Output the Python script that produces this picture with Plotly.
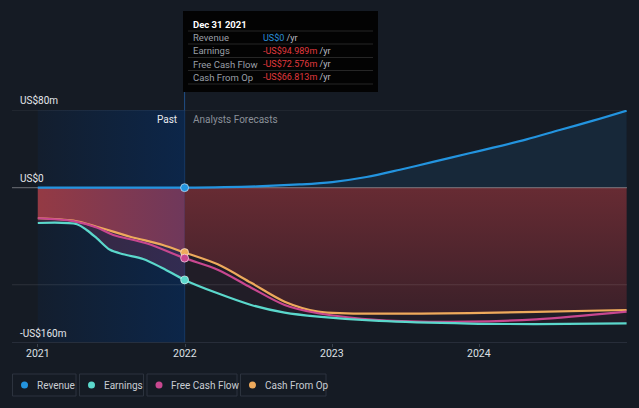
import plotly.graph_objects as go

# ---------------- data (US$ millions) ----------------
rev_dates = ["2021-01-01", "2021-12-31", "2022-06-29", "2022-10-12", "2023-01-01",
             "2023-03-27", "2023-06-18", "2023-09-08", "2023-12-07", "2024-02-04",
             "2024-04-27", "2024-07-18", "2024-10-09", "2024-12-31"]
rev_vals = [0, 0, 1.3, 3.3, 5.8, 11, 18.5, 26.5, 35.4, 41.2, 49.8, 59.4, 69, 79.3]

earn_dates = ["2021-01-01", "2021-04-08", "2021-05-02", "2021-05-27", "2021-06-29",
              "2021-08-01", "2021-09-19", "2021-11-07", "2021-12-31", "2022-03-23",
              "2022-06-14", "2022-09-05", "2022-11-27", "2023-04-27", "2023-12-07",
              "2024-05-21", "2024-12-31"]
earn_vals = [-36.4, -37.7, -43.6, -52, -64, -68.6, -73.4, -83, -94.989, -108.8,
             -120.8, -128.7, -132.8, -137.3, -140, -140.5, -139.7]

fcf_dates = ["2021-01-01", "2021-03-30", "2021-05-27", "2021-07-07", "2021-09-27",
             "2021-12-31", "2022-03-23", "2022-06-14", "2022-09-05", "2022-11-27",
             "2023-04-27", "2023-12-07", "2024-05-21", "2024-12-31"]
fcf_vals = [-31.5, -34.5, -41, -48.7, -57.3, -72.576, -84.5, -103, -120.8, -129.4,
            -136.3, -138, -135.6, -127.7]

cfo_dates = ["2021-01-01", "2021-03-30", "2021-05-27", "2021-08-18", "2021-11-07",
             "2021-12-31", "2022-03-23", "2022-06-14", "2022-09-05", "2022-11-27",
             "2023-02-06", "2023-12-07", "2024-05-21", "2024-12-31"]
cfo_vals = [-31.5, -34, -40.2, -50.5, -59, -66.813, -79, -98, -117.4, -127.7,
            -129.4, -129.2, -128, -126]

last_past = "2021-12-31"
x_range = ["2020-10-29", "2025-01-01"]
y_range = [-160, 80]
year_ticks = ["2021-01-01", "2022-01-01", "2023-01-01", "2024-01-01"]
year_labels = ["2021", "2022", "2023", "2024"]
y_label_vals = [80, 0, -160]
y_label_text = ["US$80m", "US$0", "-US$160m"]
grid_vals = [80, -100]

tooltip_title = "Dec 31 2021"
tooltip_rows = [("Revenue", "US$0", "#2a8fd8"),
                ("Earnings", "-US$94.989m", "#e0393e"),
                ("Free Cash Flow", "-US$72.576m", "#e0393e"),
                ("Cash From Op", "-US$66.813m", "#e0393e")]

legend_names = ["Revenue", "Earnings", "Free Cash Flow", "Cash From Op"]

# ---------------- style ----------------
BG = "#151b24"
C_REV = "#2394df"
C_EARN = "#5bd8cc"
C_FCF = "#c8478f"
C_CFO = "#eeaa5c"
FONT = "Roboto"

# plot-area pixel geometry
L, R, T, B = 12, 627, 110, 343
W, H = 639, 408


def px(xp):
    return (xp - L) / (R - L)


def py(yp):
    return (B - yp) / (B - T)


def split(dates, vals, past=True):
    out_d, out_v = [], []
    for d, v in zip(dates, vals):
        if (d <= last_past) == past or d == last_past:
            out_d.append(d)
            out_v.append(v)
    return out_d, out_v


fig = go.Figure()
NOH = dict(hoverinfo="skip", showlegend=False)
SMOOTH = 0.9

# past background band (horizontal gradient)
fig.add_trace(go.Scatter(
    x=[rev_dates[0], last_past, last_past, rev_dates[0], rev_dates[0]],
    y=[y_range[0], y_range[0], y_range[1], y_range[1], y_range[0]],
    mode="lines", line=dict(width=0), fill="toself",
    fillgradient=dict(type="horizontal", colorscale=[[0, "#131e2e"], [1, "#0c2649"]]),
    **NOH))

# revenue area (forecast)
rd, rv = split(rev_dates, rev_vals, past=False)
fig.add_trace(go.Scatter(x=rd, y=rv, mode="lines",
                         line=dict(width=0, shape="spline", smoothing=SMOOTH),
                         fill="tozeroy", fillcolor="#172839", **NOH))

# earnings faint fill
ed, ev = split(earn_dates, earn_vals, past=True)
fig.add_trace(go.Scatter(x=ed, y=ev, mode="lines",
                         line=dict(width=0, shape="spline", smoothing=SMOOTH),
                         fill="tozeroy", fillcolor="rgba(205,70,120,0.20)", **NOH))
ed, ev = split(earn_dates, earn_vals, past=False)
fig.add_trace(go.Scatter(x=ed, y=ev, mode="lines",
                         line=dict(width=0, shape="spline", smoothing=SMOOTH),
                         fill="tozeroy", fillcolor="rgba(200,60,90,0.07)", **NOH))

# cash from op fill (red)
cd, cv = split(cfo_dates, cfo_vals, past=False)
fig.add_trace(go.Scatter(x=cd, y=cv, mode="lines",
                         line=dict(width=0, shape="spline", smoothing=SMOOTH),
                         fill="tozeroy",
                         fillgradient=dict(type="vertical",
                                           colorscale=[[0, "#3b2029"], [1, "#672b33"]]),
                         **NOH))
cd, cv = split(cfo_dates, cfo_vals, past=True)
fig.add_trace(go.Scatter(x=cd, y=cv, mode="lines",
                         line=dict(width=0, shape="spline", smoothing=SMOOTH),
                         fill="tozeroy",
                         fillgradient=dict(type="horizontal",
                                           colorscale=[[0, "#943a44"], [1, "#6f385b"]]),
                         **NOH))

# gridlines
for gv in grid_vals:
    fig.add_trace(go.Scatter(x=x_range, y=[gv, gv], mode="lines",
                             line=dict(color="rgba(255,255,255,0.10)", width=1), **NOH))
fig.add_trace(go.Scatter(x=x_range, y=[0, 0], mode="lines",
                         line=dict(color="rgba(255,255,255,0.30)", width=1.2), **NOH))
fig.add_trace(go.Scatter(x=x_range, y=[y_range[0], y_range[0]], mode="lines",
                         line=dict(color="#2e3540", width=1.5), **NOH))

# lines
for d, v, c in [(rev_dates, rev_vals, C_REV), (cfo_dates, cfo_vals, C_CFO),
                (fcf_dates, fcf_vals, C_FCF), (earn_dates, earn_vals, C_EARN)]:
    fig.add_trace(go.Scatter(x=d, y=v, mode="lines",
                             line=dict(color=c, width=2.2, shape="spline", smoothing=SMOOTH),
                             **NOH))

# markers at last past point
for d, v, c in [(rev_dates, rev_vals, C_REV), (cfo_dates, cfo_vals, C_CFO),
                (fcf_dates, fcf_vals, C_FCF), (earn_dates, earn_vals, C_EARN)]:
    i = d.index(last_past)
    fig.add_trace(go.Scatter(x=[d[i]], y=[v[i]], mode="markers",
                             marker=dict(color=c, size=8,
                                         line=dict(color="rgba(255,255,255,0.55)", width=1)),
                             **NOH))

shapes = []
annotations = []

# vertical divider line (from tooltip bottom to axis)
shapes.append(dict(type="line", xref="x", yref="paper", x0=last_past, x1=last_past,
                   y0=0, y1=py(92), line=dict(color="#1f4f86", width=1), layer="below"))

# x tick labels
for tv, tl in zip(year_ticks, year_labels):
    annotations.append(dict(xref="x", yref="paper", x=tv, y=py(353), text=tl,
                            xanchor="center", yanchor="middle", showarrow=False,
                            font=dict(family=FONT, size=10.5, color="#dde0e4")))

# y labels
for v, t in zip(y_label_vals, y_label_text):
    annotations.append(dict(xref="paper", yref="y", x=px(18), y=v, text=t,
                            xanchor="left", yanchor="bottom", yshift=2, showarrow=False,
                            font=dict(family=FONT, size=10, color="#e4e7eb")))

# past / forecast labels
annotations.append(dict(xref="x", yref="paper", x=last_past, y=py(119), text="Past",
                        xanchor="right", yanchor="middle", xshift=-6, showarrow=False,
                        font=dict(family=FONT, size=10, color="#e8eaee")))
annotations.append(dict(xref="x", yref="paper", x=last_past, y=py(119),
                        text="Analysts Forecasts", xanchor="left", yanchor="middle",
                        xshift=6, showarrow=False,
                        font=dict(family=FONT, size=10, color="#8a9099")))

# tooltip
shapes.append(dict(type="rect", xref="paper", yref="paper", x0=px(183), x1=px(378),
                   y0=py(92), y1=py(11), fillcolor="#030303", line=dict(width=0),
                   layer="above"))
for sy in [31, 44, 57.5, 70.5, 84]:
    shapes.append(dict(type="line", xref="paper", yref="paper", x0=px(188), x1=px(373),
                       y0=py(sy), y1=py(sy), line=dict(color="#262626", width=1),
                       layer="above"))
annotations.append(dict(xref="paper", yref="paper", x=px(191), y=py(24.3),
                        text="<b>" + tooltip_title + "</b>", xanchor="left",
                        yanchor="middle", showarrow=False,
                        font=dict(family=FONT, size=9.5, color="#ffffff")))
for k, (lab, val, col) in enumerate(tooltip_rows):
    yy = [37.5, 50.7, 64, 77.3][k]
    annotations.append(dict(xref="paper", yref="paper", x=px(191), y=py(yy), text=lab,
                            xanchor="left", yanchor="middle", showarrow=False,
                            font=dict(family=FONT, size=9.5, color="#9a9fa6")))
    annotations.append(dict(xref="paper", yref="paper", x=px(261), y=py(yy),
                            text="<span style='color:%s'>%s</span> /yr" % (col, val),
                            xanchor="left", yanchor="middle", showarrow=False,
                            font=dict(family=FONT, size=9, color="#b9bec4")))

# legend (custom boxes)
boxes = [(12.5, 76), (79.5, 143.5), (147, 237), (240.5, 326)]
for (x0, x1), name, c in zip(boxes, legend_names, [C_REV, C_EARN, C_FCF, C_CFO]):
    shapes.append(dict(type="rect", xref="paper", yref="paper", x0=px(x0), x1=px(x1),
                       y0=py(396), y1=py(374), fillcolor=BG,
                       line=dict(color="#2c333e", width=1)))
    cx = x0 + 12
    shapes.append(dict(type="circle", xref="paper", yref="paper", x0=px(cx - 3.5),
                       x1=px(cx + 3.5), y0=py(385 + 3.5), y1=py(385 - 3.5),
                       fillcolor=c, line=dict(width=0)))
    annotations.append(dict(xref="paper", yref="paper", x=px(x0 + 22), y=py(385),
                            text=name, xanchor="left", yanchor="middle", showarrow=False,
                            font=dict(family=FONT, size=10, color="#c9cdd3")))

fig.update_layout(
    width=W, height=H,
    margin=dict(l=L, r=W - R, t=T, b=H - B, pad=0),
    paper_bgcolor=BG, plot_bgcolor=BG,
    showlegend=False,
    xaxis=dict(type="date", range=x_range, showgrid=False, zeroline=False,
               tickvals=year_ticks, ticks="outside", ticklen=3,
               tickcolor="#3a414c", showticklabels=False,
               showline=False, fixedrange=True),
    yaxis=dict(range=y_range, visible=False, fixedrange=True),
    shapes=shapes, annotations=annotations,
)

fig.write_html(
    "out.html",
    config={"displayModeBar": False, "staticPlot": True},
    post_script="document.body.style.margin='0';document.body.style.background='#151b24';"
                "document.documentElement.style.overflow='hidden';",
)
